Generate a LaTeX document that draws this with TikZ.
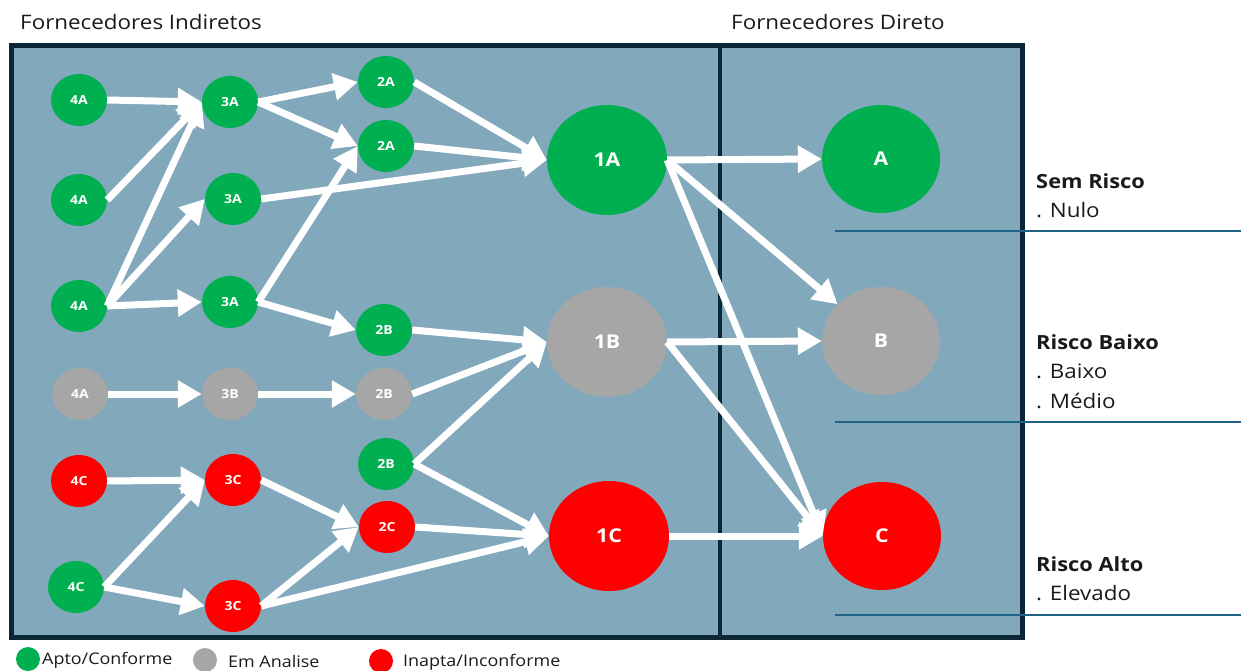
\documentclass[tikz,border=0pt]{standalone}
\usepackage{fontspec}
\setmainfont{Open Sans}[FakeStretch=1.12]
\usetikzlibrary{shapes.geometric,arrows.meta}
\definecolor{bgc}{HTML}{82A8BC}
\definecolor{bordc}{HTML}{0B2736}
\definecolor{gnc}{HTML}{00B050}
\definecolor{gyc}{HTML}{A6A6A6}
\definecolor{rdc}{HTML}{FF0000}
\definecolor{sepc}{HTML}{1F6389}
\definecolor{txtc}{HTML}{1A1A1A}
\begin{document}
\begin{tikzpicture}[x=1pt,y=-1pt,
  sm/.style={ellipse,minimum width=56pt,minimum height=52pt,inner sep=0pt,text=white,font=\fontsize{12.5}{12.5}\selectfont\bfseries},
  bigone/.style={ellipse,minimum width=120pt,minimum height=110pt,inner sep=0pt,text=white,font=\fontsize{19}{19}\selectfont\bfseries},
  bigdir/.style={ellipse,minimum width=118pt,minimum height=108pt,inner sep=0pt,text=white,font=\fontsize{19}{19}\selectfont\bfseries},
  gn/.style={fill=gnc}, gy/.style={fill=gyc}, rd/.style={fill=rdc},
  arr/.style={draw=white,line width=7pt,-{Triangle[length=24pt,width=26pt]}},
  title/.style={anchor=west,inner sep=0pt,text=txtc,font=\fontsize{20}{20}\selectfont},
  risk/.style={anchor=west,inner sep=0pt,text=txtc,font=\fontsize{19.5}{19.5}\selectfont\bfseries},
  riskitem/.style={anchor=west,inner sep=0pt,text=txtc,font=\fontsize{20}{20}\selectfont},
  legdot/.style={circle,minimum size=24pt,inner sep=0pt},
  legtxt/.style={anchor=west,inner sep=0pt,text=txtc,font=\fontsize{16}{16}\selectfont},
  sepline/.style={draw=sepc,line width=2pt}]
\useasboundingbox (0,0) rectangle (1241,671);
% frame
\fill[bgc] (11.5,45.5) rectangle (1022.5,637.5);
\draw[bordc,line width=5pt] (11.5,45.5) rectangle (1022.5,637.5);
\draw[bordc,line width=4pt] (720,45.5) -- (720,637.5);
% titles
\node[title] (t1) at (20,22) {Fornecedores Indiretos};
\node[title] (t2) at (731,22) {Fornecedores Direto};
% level 4
\node[sm,gn] (a4a) at (79,100) {4A};
\node[sm,gn] (a4b) at (79,200) {4A};
\node[sm,gn] (a4c) at (79,306) {4A};
\node[sm,gy] (b4) at (80,394) {4A};
\node[sm,rd] (c4a) at (79,481) {4C};
\node[sm,gn] (c4b) at (76,587) {4C};
% level 3
\node[sm,gn] (a3a) at (230,102) {3A};
\node[sm,gn] (a3b) at (233,199) {3A};
\node[sm,gn] (a3c) at (230,302) {3A};
\node[sm,gy] (b3) at (230,394) {3B};
\node[sm,rd] (c3a) at (233,480) {3C};
\node[sm,rd] (c3b) at (233,606) {3C};
% level 2
\node[sm,gn] (a2a) at (386,82) {2A};
\node[sm,gn] (a2b) at (386,146) {2A};
\node[sm,gn] (b2a) at (384,330) {2B};
\node[sm,gy] (b2b) at (384,394) {2B};
\node[sm,gn] (b2c) at (386,464) {2B};
\node[sm,rd] (c2) at (387,527) {2C};
% level 1
\node[bigone,gn] (a1) at (607,160) {1A};
\node[bigone,gy] (b1) at (607,342) {1B};
\node[bigone,rd] (c1) at (609,536) {1C};
% direct
\node[bigdir,gn] (A) at (881,159) {A};
\node[bigdir,gy] (B) at (881,341) {B};
\node[bigdir,rd] (C) at (882,536) {C};
% arrows
\draw[arr] (a4a.east) -- (a3a.west);
\draw[arr] (a4b.east) -- (a3a.west);
\draw[arr] (a4c.east) -- (a3a.west);
\draw[arr] (a4c.east) -- (a3b.west);
\draw[arr] (a4c.east) -- (a3c.west);
\draw[arr] (a3a.east) -- (a2a.west);
\draw[arr] (a3a.east) -- (a2b.west);
\draw[arr] (a3b.east) -- (a1.west);
\draw[arr] (a3c.east) -- (a2b.west);
\draw[arr] (a3c.east) -- (b2a.west);
\draw[arr] (a2a.east) -- (a1.west);
\draw[arr] (a2b.east) -- (a1.west);
\draw[arr] (b4.east) -- (b3.west);
\draw[arr] (b3.east) -- (b2b.west);
\draw[arr] (b2a.east) -- (b1.west);
\draw[arr] (b2b.east) -- (b1.west);
\draw[arr] (b2c.east) -- (b1.west);
\draw[arr] (b2c.east) -- (c1.west);
\draw[arr] (c4a.east) -- (c3a.west);
\draw[arr] (c4b.east) -- (c3a.west);
\draw[arr] (c4b.east) -- (c3b.west);
\draw[arr] (c3a.east) -- (c2.west);
\draw[arr] (c3b.east) -- (c2.west);
\draw[arr] (c3b.east) -- (c1.west);
\draw[arr] (c2.east) -- (c1.west);
\draw[arr] (a1.east) -- (A.west);
\draw[arr] (a1.east) -- (B);
\draw[arr] (a1.east) -- (C.west);
\draw[arr] (b1.east) -- (B.west);
\draw[arr] (b1.east) -- (C.west);
\draw[arr] (c1.east) -- (C.west);
% separators
\coordinate (s1a) at (835,231); \coordinate (s1b) at (1241,231);
\coordinate (s2a) at (835,422); \coordinate (s2b) at (1241,422);
\coordinate (s3a) at (835,615); \coordinate (s3b) at (1241,615);
\draw[sepline] (s1a) -- (s1b);
\draw[sepline] (s2a) -- (s2b);
\draw[sepline] (s3a) -- (s3b);
% risk labels
\node[risk] (r1) at (1036,181) {Sem Risco};
\node[riskitem] (r1a) at (1036,210) {. Nulo};
\node[risk] (r2) at (1036,342) {Risco Baixo};
\node[riskitem] (r2a) at (1036,371) {. Baixo};
\node[riskitem] (r2b) at (1036,401) {. Médio};
\node[risk] (r3) at (1036,564) {Risco Alto};
\node[riskitem] (r3a) at (1036,593) {. Elevado};
% legend
\node[legdot,fill=gnc] (l1) at (28,659) {};
\node[legtxt] (l1t) at (42,660) {Apto/Conforme};
\node[legdot,fill=gyc] (l2) at (205,660) {};
\node[legtxt] (l2t) at (228,661) {Em Analise};
\node[legdot,fill=rdc] (l3) at (381,661) {};
\node[legtxt] (l3t) at (403,662) {Inapta/Inconforme};
\end{tikzpicture}
\end{document}
